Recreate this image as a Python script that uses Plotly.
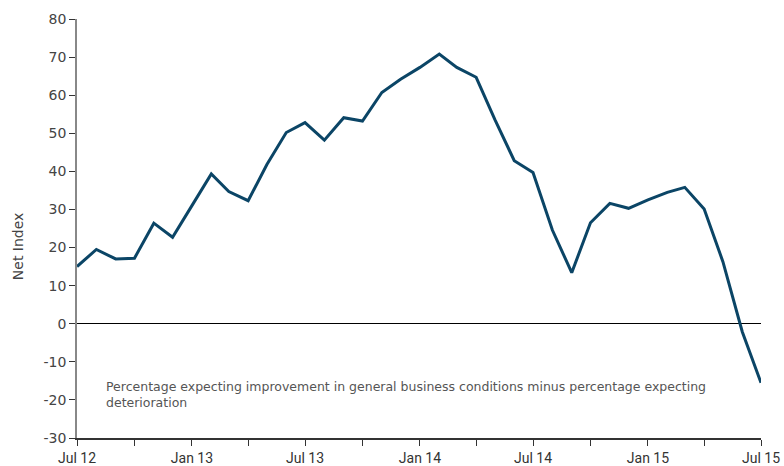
import plotly.graph_objects as go
import pandas as pd

months = pd.date_range("2012-07-01", "2015-07-01", freq="MS")
net_index = [15.0, 19.5, 17.0, 17.2, 26.4, 22.7, 31.0, 39.3, 34.7, 32.3,
             41.8, 50.2, 52.8, 48.2, 54.1, 53.2, 60.7, 64.2, 67.3, 70.8,
             67.3, 64.7, 53.6, 42.8, 39.7, 24.6, 13.4, 26.5, 31.6, 30.3,
             32.5, 34.5, 35.8, 30.1, 16.3, -2.1, -15.5]
y_tick_values = [-30, -20, -10, 0, 10, 20, 30, 40, 50, 60, 70, 80]
y_tick_labels = ["-30", "-20", "-10", "0", "10", "20", "30", "40", "50", "60", "70", "80"]
y_title = "Net Index"
note = ("Percentage expecting improvement in general business conditions minus percentage expecting"
        "<br>deterioration")

fig = go.Figure()
fig.add_trace(go.Scatter(x=months, y=net_index, mode="lines",
                         line=dict(color="#0b4566", width=3), hoverinfo="skip"))

fig.update_layout(
    width=784, height=466,
    margin=dict(l=77, r=23, t=19, b=28),
    plot_bgcolor="white", paper_bgcolor="white",
    showlegend=False,
    font=dict(family="DejaVu Sans", color="#444444"),
)
fig.update_xaxes(
    automargin=False,
    range=[months[0], months[-1]],
    dtick="M6", tick0="2012-07-01", tickformat="%b %y",
    ticks="outside", ticklen=6, tickcolor="#333333",
    minor=dict(dtick="M3", ticks="outside", ticklen=6, tickcolor="#333333", showgrid=False),
    showline=True, linecolor="#333333", linewidth=1.5,
    showgrid=False, zeroline=False,
    tickfont=dict(family="Roboto", size=14, color="#333333"),
)
fig.update_yaxes(
    automargin=False,
    range=[-30, 80], tickmode="array", tickvals=y_tick_values, ticktext=y_tick_labels,
    ticks="outside", ticklen=6, tickcolor="#333333",
    showline=True, linecolor="#888888", linewidth=1.5,
    showgrid=False,
    zeroline=True, zerolinecolor="#000000", zerolinewidth=1.3,
    tickfont=dict(family="DejaVu Sans", size=14, color="#444444"),
)
fig.add_annotation(text=y_title, xref="paper", yref="y", x=-0.086, y=20.4,
                   textangle=-90, showarrow=False, xanchor="center", yanchor="middle",
                   font=dict(family="DejaVu Sans", size=14, color="#444444"))
fig.add_annotation(text=note, xref="paper", yref="y", x=0.039, y=-18.6,
                   showarrow=False, xanchor="left", yanchor="middle", align="left",
                   font=dict(family="DejaVu Sans", size=12.5, color="#555555"))

fig.write_html("out.html")
